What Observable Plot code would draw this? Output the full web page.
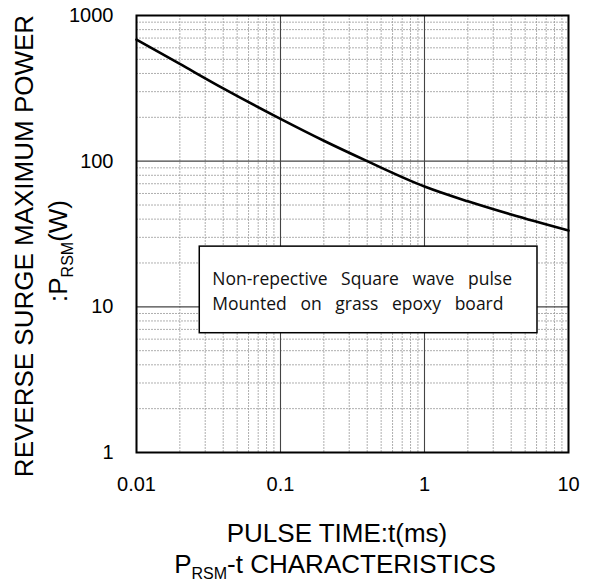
<!DOCTYPE html>
<html>
<head>
<meta charset="utf-8">
<script src="https://cdn.jsdelivr.net/npm/d3@7"></script>
<script src="https://cdn.jsdelivr.net/npm/@observablehq/plot@0.6"></script>
<style>
  html, body { margin: 0; padding: 0; background: #fff; }
  #wrap { position: relative; width: 590px; height: 586px; font-family: "Liberation Sans", Arial, sans-serif; color: #000; }
  .t { position: absolute; white-space: nowrap; font-size: 26px; line-height: 26px; }
  .rot { transform: translate(-50%, -50%) rotate(-90deg); }
  .hc { transform: translateX(-50%); }
  .t sub { font-size: 16px; vertical-align: baseline; position: relative; top: 6px; line-height: 0; }
</style>
</head>
<body>
<div id="wrap">
  <div id="chart"></div>
  <div class="t rot" style="left:24px; top:246px;">REVERSE SURGE MAXIMUM POWER</div>
  <div class="t rot" style="left:58px; top:251px;">:P<sub>RSM</sub>(W)</div>
  <div class="t hc" style="left:337px; top:520px;">PULSE TIME:t(ms)</div>
  <div class="t hc" style="left:335px; top:551px;">P<sub>RSM</sub>-t CHARACTERISTICS</div>
</div>
<script>
// Curve: pulse time (ms) vs reverse surge maximum power (W)
const pulseTime = [0.01, 0.02, 0.04, 0.1, 0.2, 0.4, 1, 2, 4, 10];
const surgePower = [684, 465, 316, 195, 138, 100, 67, 53, 43, 33.4];

// Tick labels
const xTicks = [0.01, 0.1, 1, 10];
const yTicks = [1, 10, 100, 1000];
const xTickLabels = ["0.01", "0.1", "1", "10"];
const yTickLabels = ["1", "10", "100", "1000"];

// Note box (data coordinates) and its text lines
const noteBox = [{x1: 0.0275, x2: 6.09, y1: 6.59, y2: 25.9}];
const gap = "\u00a0\u00a0 ";
const noteLines = [["Non-repective", "Square", "wave", "pulse"].join(gap), ["Mounted", "on", "grass", "epoxy", "board"].join(gap)];
const noteX = [0.0336, 0.0336];
const noteY = [15.4, 10.4];

const minorMults = [2, 3, 4, 5, 6, 7, 8, 9];
const xMinor = xTicks.slice(0, -1).flatMap(d => minorMults.map(m => d * m));
const yMinor = yTicks.slice(0, -1).flatMap(d => minorMults.map(m => d * m));

const curve = pulseTime.map((t, i) => ({t, p: surgePower[i]}));
const notes = noteLines.map((s, i) => ({s, x: noteX[i], y: noteY[i]}));
const xLab = d => xTickLabels[xTicks.indexOf(d)];
const yLab = d => yTickLabels[yTicks.indexOf(d)];

const chart = Plot.plot({
  width: 590,
  height: 500,
  marginLeft: 136,
  marginRight: 22,
  marginTop: 15,
  marginBottom: 48,
  style: {fontFamily: "Liberation Sans, Arial, sans-serif", fontSize: "20px", color: "#000", background: "#fff"},
  x: {type: "log", domain: [0.01, 10], axis: null},
  y: {type: "log", domain: [1, 1000], axis: null},
  marks: [
    Plot.ruleX(xMinor, {stroke: "#9a9a9a", strokeWidth: 0.8, strokeDasharray: "2,1"}),
    Plot.ruleY(yMinor, {stroke: "#9a9a9a", strokeWidth: 0.8, strokeDasharray: "2,1"}),
    Plot.ruleX(xTicks, {stroke: "#444", strokeWidth: 1.1}),
    Plot.ruleY(yTicks, {stroke: "#444", strokeWidth: 1.1}),
    Plot.rect(noteBox, {x1: "x1", x2: "x2", y1: "y1", y2: "y2", fill: "#fff", stroke: "#000", strokeWidth: 1.5}),
    Plot.text(notes, {x: "x", y: "y", text: "s", textAnchor: "start", fontSize: 17.5, fontFamily: "Open Sans, sans-serif", fill: "#111"}),
    Plot.line(curve, {x: "t", y: "p", stroke: "#000", strokeWidth: 2.6, curve: "monotone-x"}),
    Plot.frame({stroke: "#000", strokeWidth: 2}),
    Plot.text(xTicks, {x: d => d, text: xLab, frameAnchor: "bottom", lineAnchor: "top", dy: 24, fontSize: 20, fill: "#000"}),
    Plot.text(yTicks, {y: d => d, text: yLab, frameAnchor: "left", textAnchor: "end", dx: -23, fontSize: 20, fill: "#000"})
  ]
});
document.getElementById("chart").appendChild(chart);
</script>
</body>
</html>
